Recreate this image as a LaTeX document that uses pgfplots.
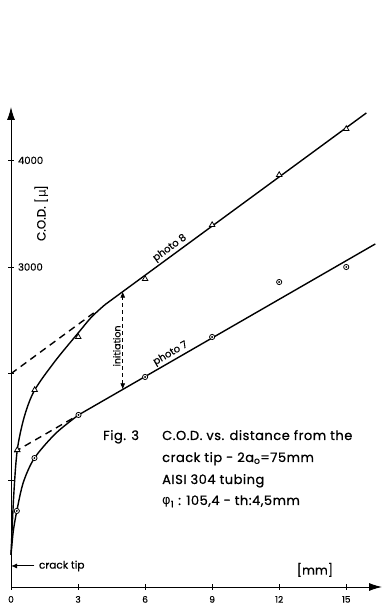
\documentclass[border=0pt]{standalone}
\usepackage{fontspec}
\setmainfont{Poppins}
\newfontfamily\lab[FakeBold=0.8, LetterSpace=4]{Poppins}
\newfontfamily\dejavu{DejaVu Sans}
\usepackage{pgfplots}
\pgfplotsset{compat=1.18}
\usetikzlibrary{arrows.meta}
\begin{document}
\begin{tikzpicture}
\path[use as bounding box] (0,0) rectangle (383pt,613pt);
\begin{axis}[
 at={(11pt,26pt)}, anchor=south west,
 scale only axis, width=371pt, height=480pt,
 xmin=0, xmax=16.6, ymin=0, ymax=4500,
 axis lines*=left,
 axis line style={line width=0.9pt, -{Latex[length=13pt,width=8pt]}},
 xtick={0,3,6,9,12,15}, xticklabels={0,3,6,9,12,15},
 ytick={1000,2000,3000,4000}, yticklabels={,,3000,4000},
 tick align=center, major tick length=5pt, tick style={line width=0.8pt, black},
 xticklabel style={font=\fontsize{9}{10}\selectfont\addfontfeatures{FakeBold=0.5}, yshift=-3pt},
 yticklabel style={font=\fontsize{10}{12}\selectfont\addfontfeatures{FakeBold=0.5}, anchor=west, xshift=6pt},
 clip=false,
]
% photo 8
\addplot[line width=1.4pt, smooth, tension=0.5] coordinates {(0,300) (0.12,850) (0.28,1284) (0.6,1600) (1.06,1847) (2,2125) (3,2380) (3.6,2530) (4.2,2646)};
\addplot[line width=1.4pt] coordinates {(4.2,2646) (15.9,4444)};
\addplot[line width=1.4pt, dash pattern=on 7pt off 5pt] coordinates {(0,2000) (3.7,2569)};
\addplot[only marks, mark=triangle*, mark size=3.2pt, mark options={fill=white, draw=black, line width=0.8pt}] coordinates {(0.28,1284) (1.06,1847) (3.01,2344) (6,2888) (9,3394) (12,3863) (15,4294)};
% photo 7
\addplot[line width=1.4pt, smooth, tension=0.5] coordinates {(0,300) (0.1,520) (0.26,713) (0.55,980) (1.05,1209) (2,1440) (3.02,1613)};
\addplot[line width=1.4pt] coordinates {(3.02,1613) (16.3,3216)};
\addplot[line width=1.4pt, dash pattern=on 7pt off 5pt] coordinates {(0.15,1266) (2.8,1586)};
\addplot[only marks, mark=*, mark size=2.6pt, mark options={fill=white, draw=black, line width=0.8pt}] coordinates {(0.26,713) (1.05,1209) (3.02,1613) (6,1969) (9,2344) (12,2859) (15,3000)};
\addplot[only marks, mark=*, mark size=0.7pt, mark options={fill=black}] coordinates {(0.26,713) (1.05,1209) (3.02,1613) (6,1969) (9,2344) (12,2859) (15,3000)};
% initiation
\addplot[line width=0.7pt, dash pattern=on 4pt off 3pt, {Latex[length=6pt,width=5pt]}-{Latex[length=6pt,width=5pt]}] coordinates {(5,1853) (5,2769)};
\node[rotate=90, font=\fontsize{9.5}{10}\selectfont\addfontfeatures{FakeBold=0.5}, anchor=south, inner sep=2pt] at (axis cs:5,2260) {initiation};
% labels
\node[rotate=36, font=\fontsize{10}{11}\selectfont\addfontfeatures{FakeBold=0.5}, anchor=south, inner sep=2pt] at (axis cs:7.3,3122) {photo 8};
\node[rotate=30, font=\fontsize{10}{11}\selectfont\addfontfeatures{FakeBold=0.5}, anchor=south, inner sep=2pt] at (axis cs:7.3,2129) {photo 7};
\node[rotate=90, font=\fontsize{12}{14}\selectfont\addfontfeatures{FakeBold=0.5}] at (axis cs:1.35,3505) {C.O.D. [{\dejavu μ}]};
\node[font=\fontsize{12.5}{14}\selectfont\addfontfeatures{FakeBold=0.5}] at (axis cs:13.6,160) {[mm]};
\draw[line width=1pt, -{Latex[length=6pt,width=5pt]}] (axis cs:1.05,197) -- (axis cs:0,197);
\node[anchor=west, font=\fontsize{10.5}{12}\selectfont\addfontfeatures{FakeBold=0.5}, inner sep=1pt] at (axis cs:1.2,197) {crack tip};
\end{axis}
\begin{scope}[every node/.style={anchor=base west, inner sep=0pt, font=\fontsize{13}{15}\selectfont\lab}]
\node at (103pt,173pt) {Fig. 3};
\node at (162pt,173pt) {C.O.D. vs. distance from the};
\node at (162pt,151pt) {crack tip - 2a\textsubscript{o}=75mm};
\node at (162pt,129pt) {AISI 304 tubing};
\node at (162pt,108pt) {{\dejavu φ}\textsubscript{1} : 105,4 - th:4,5mm};
\end{scope}
\end{tikzpicture}
\end{document}
